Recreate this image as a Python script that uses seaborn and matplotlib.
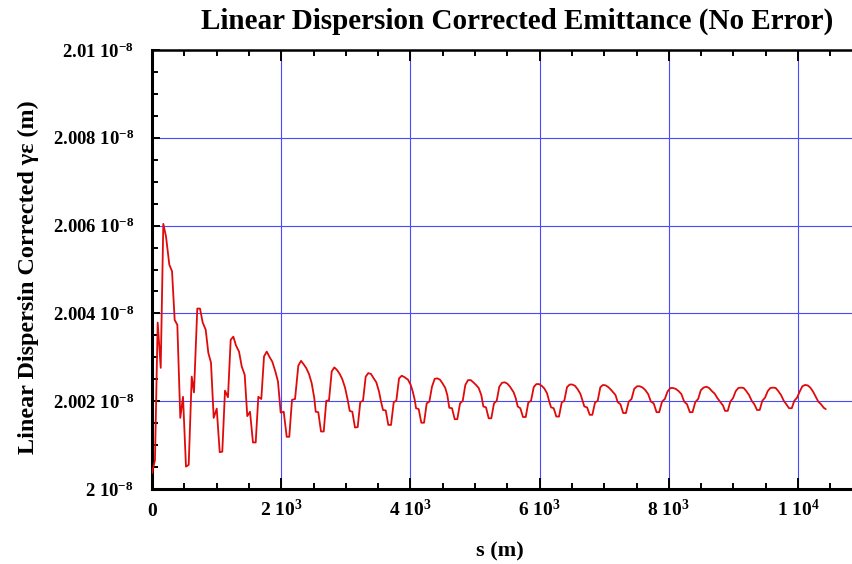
import matplotlib
matplotlib.use("Agg")
import matplotlib.pyplot as plt
import seaborn as sns
import pandas as pd
from matplotlib.ticker import MultipleLocator

# ---------------- data ----------------
s_m = [0, 46, 88, 135, 175, 217, 268, 310, 351, 392,
       438, 480, 526, 568, 615, 650, 701, 743, 785, 831,
       872, 913, 955, 1002, 1048, 1088, 1130, 1176, 1218, 1259,
       1300, 1347, 1389, 1435, 1475, 1517, 1563, 1605, 1646, 1692,
       1734, 1776, 1822, 1862, 1909, 1950, 1992, 2039, 2085, 2125, 2167, 2214,
       2265, 2307, 2348, 2389, 2430, 2472, 2512, 2534, 2574, 2616,
       2658, 2698, 2740, 2782, 2822, 2864, 2906, 2946, 2988, 3029,
       3060, 3101, 3142, 3184, 3224, 3266, 3308, 3348, 3390, 3432,
       3472, 3514, 3545, 3576, 3618, 3658, 3700, 3742, 3782, 3824,
       3865, 3906,
       3963, 4005, 4036, 4067, 4087, 4128, 4169, 4211, 4252, 4293,
       4334, 4376, 4416, 4458, 4500, 4540, 4571, 4602, 4644, 4686,
       4726, 4768, 4810, 4850, 4892, 4934, 4974, 5016, 5057, 5097,
       5129, 5170, 5212, 5252, 5294, 5336, 5376, 5418, 5460, 5500,
       5542,
       5599, 5630, 5661, 5701, 5743, 5785, 5825, 5867, 5909, 5949,
       5991, 6033, 6073, 6115, 6146, 6177, 6218, 6259, 6300, 6342,
       6382, 6424, 6466, 6506, 6548, 6590, 6630, 6661, 6692, 6734,
       6776, 6816, 6858, 6899, 6940, 6981, 7023, 7064,
       7105, 7141, 7175, 7208, 7251, 7294, 7336, 7379, 7423, 7464,
       7508, 7551, 7595, 7638, 7681, 7723, 7766, 7810, 7851, 7895,
       7938, 7980, 8023, 8067, 8108, 8152, 8195, 8238, 8282, 8325,
       8367, 8410, 8454, 8495, 8539, 8582, 8624, 8667, 8711, 8752,
       8797, 8839, 8870, 8912, 8952, 8994, 9036, 9076, 9118, 9160,
       9200, 9242, 9283, 9324, 9365, 9407, 9447, 9489, 9531, 9571,
       9613, 9655, 9695, 9737, 9779, 9819, 9861, 9903, 9943, 9985,
       10026, 10067, 10108, 10150, 10190, 10232, 10274, 10314, 10356, 10398,
       10429]

# emittance in units of 1e-8 m
eps_1e8 = [2.00036, 2.00066, 2.00379, 2.00276, 2.00604, 2.00575, 2.00511, 2.00496, 2.00385, 2.00374,
           2.00162, 2.00210, 2.00051, 2.00055, 2.00256, 2.00220, 2.00411, 2.00411, 2.00379, 2.00363,
           2.00310, 2.00288, 2.00162, 2.00183, 2.00084, 2.00085, 2.00224, 2.00209, 2.00340, 2.00347,
           2.00327, 2.00313, 2.00279, 2.00260, 2.00166, 2.00176, 2.00106, 2.00106, 2.00210, 2.00205,
           2.00302, 2.00313, 2.00300, 2.00290, 2.00268, 2.00245, 2.00174, 2.00176, 2.00119, 2.00119, 2.00203, 2.00205,
           2.00281, 2.00292, 2.00284, 2.00275, 2.00262, 2.00241, 2.00207, 2.00176, 2.00175, 2.00131,
           2.00131, 2.00201, 2.00202, 2.00268, 2.00277, 2.00271, 2.00262, 2.00250, 2.00231, 2.00203,
           2.00178, 2.00176, 2.00140, 2.00141, 2.00198, 2.00201, 2.00256, 2.00264, 2.00262, 2.00252,
           2.00243, 2.00222, 2.00199, 2.00180, 2.00179, 2.00146, 2.00146, 2.00198, 2.00201, 2.00252,
           2.00258, 2.00255,
           2.00249, 2.00237, 2.00222, 2.00203, 2.00184, 2.00182, 2.00151, 2.00151, 2.00195, 2.00199,
           2.00233, 2.00251, 2.00252, 2.00249, 2.00240, 2.00230, 2.00214, 2.00185, 2.00184, 2.00159,
           2.00159, 2.00195, 2.00201, 2.00237, 2.00248, 2.00248, 2.00243, 2.00237, 2.00230, 2.00214,
           2.00188, 2.00186, 2.00161, 2.00161, 2.00195, 2.00201, 2.00233, 2.00242, 2.00243, 2.00240,
           2.00233,
           2.00220, 2.00207, 2.00188, 2.00184, 2.00164, 2.00164, 2.00197, 2.00201, 2.00232, 2.00239,
           2.00239, 2.00235, 2.00229, 2.00218, 2.00201, 2.00186, 2.00184, 2.00165, 2.00165, 2.00197,
           2.00201, 2.00232, 2.00238, 2.00238, 2.00235, 2.00227, 2.00217, 2.00203, 2.00188, 2.00186,
           2.00169, 2.00169, 2.00197, 2.00201, 2.00232, 2.00237, 2.00236, 2.00232,
           2.00226, 2.00220, 2.00214, 2.00198, 2.00193, 2.00173, 2.00173, 2.00199, 2.00205, 2.00228,
           2.00234, 2.00234, 2.00231, 2.00225, 2.00216, 2.00199, 2.00195, 2.00175, 2.00175, 2.00199,
           2.00205, 2.00222, 2.00230, 2.00230, 2.00228, 2.00223, 2.00216, 2.00199, 2.00193, 2.00175,
           2.00175, 2.00198, 2.00205, 2.00225, 2.00231, 2.00233, 2.00230, 2.00223, 2.00217, 2.00207,
           2.00198, 2.00190, 2.00178, 2.00178, 2.00199, 2.00207, 2.00223, 2.00230, 2.00231, 2.00230,
           2.00223, 2.00214, 2.00201, 2.00193, 2.00180, 2.00180, 2.00201, 2.00208, 2.00223, 2.00230,
           2.00231, 2.00230, 2.00223, 2.00214, 2.00201, 2.00193, 2.00184, 2.00184, 2.00201, 2.00208,
           2.00222, 2.00234, 2.00237, 2.00236, 2.00231, 2.00222, 2.00210, 2.00199, 2.00193, 2.00185,
           2.00182]

x_ticks = [0, 2000, 4000, 6000, 8000, 10000]
x_tick_labels = ["0", r"2 10$^{3}$", r"4 10$^{3}$", r"6 10$^{3}$", r"8 10$^{3}$", r"1 10$^{4}$"]
y_ticks = [2.0, 2.002, 2.004, 2.006, 2.008, 2.01]
y_tick_labels = [r"2 10$^{-8}$", r"2.002 10$^{-8}$", r"2.004 10$^{-8}$",
                 r"2.006 10$^{-8}$", r"2.008 10$^{-8}$", r"2.01 10$^{-8}$"]

title = "Linear Dispersion Corrected Emittance (No Error)"
x_label = "s (m)"
y_label = "Linear Dispersin Corrected γε (m)"

# ---------------- style ----------------
sns.set_style("ticks")
plt.rcParams["font.family"] = ["Liberation Serif", "DejaVu Serif"]
plt.rcParams["font.weight"] = "bold"
plt.rcParams["text.color"] = "black"
plt.rcParams["xtick.color"] = "black"
plt.rcParams["ytick.color"] = "black"
plt.rcParams["xtick.labelcolor"] = "black"
plt.rcParams["ytick.labelcolor"] = "black"
plt.rcParams["mathtext.fontset"] = "custom"
plt.rcParams["mathtext.rm"] = "Liberation Serif:bold"
plt.rcParams["mathtext.bf"] = "Liberation Serif:bold"
plt.rcParams["mathtext.it"] = "Liberation Serif:bold:italic"
plt.rcParams["mathtext.default"] = "rm"

df = pd.DataFrame({"s": s_m, "eps": eps_1e8})

W, H = 853, 564
fig = plt.figure(figsize=(W / 100, H / 100), dpi=100)
ax = fig.add_axes([152 / W, 75 / H, (W - 152) / W, 439 / H])

ax.grid(True, which="major", color="#4848ff", lw=0.8, zorder=0)
ax.set_axisbelow(True)

sns.lineplot(data=df, x="s", y="eps", ax=ax, color="#e00a0a", lw=1.3,
             estimator=None, sort=False, zorder=3)

ax.set_xlim(0, 10851)
ax.set_ylim(2.0, 2.01)
ax.set_xticks(x_ticks)
ax.set_xticklabels(x_tick_labels, fontsize=14, fontweight="bold", color="black",
                   va="baseline")
ax.set_yticks(y_ticks)
ax.set_yticklabels(y_tick_labels, fontsize=13.5, fontweight="bold", color="black")
ax.xaxis.set_minor_locator(MultipleLocator(500))
ax.yaxis.set_minor_locator(MultipleLocator(0.0005))
ax.tick_params(which="both", direction="in", top=True, right=False, width=1.4, colors="black")
ax.tick_params(axis="x", which="major", length=8, pad=19.5)
ax.tick_params(axis="x", which="minor", length=4.5)
ax.tick_params(axis="y", which="major", length=6, pad=13)
ax.tick_params(axis="y", which="minor", length=4)
ax.set_xlabel("")
ax.set_ylabel("")

for side in ["left", "bottom"]:
    ax.spines[side].set_linewidth(2.2)
    ax.spines[side].set_color("black")
ax.spines["top"].set_linewidth(1.8)
ax.spines["top"].set_color("black")
ax.spines["right"].set_visible(False)

fig.text(517 / W, 1 - 21 / H, title, ha="center", va="center",
         fontsize=21, fontweight="bold", color="black")
fig.text(28 / W, 1 - 277 / H, y_label, ha="center", va="center",
         rotation=90, fontsize=17.4, fontweight="bold", color="black")
fig.text(500 / W, 1 - 551 / H, x_label, ha="center", va="center",
         fontsize=16, fontweight="bold", color="black")

fig.savefig("out.png", dpi=100)
